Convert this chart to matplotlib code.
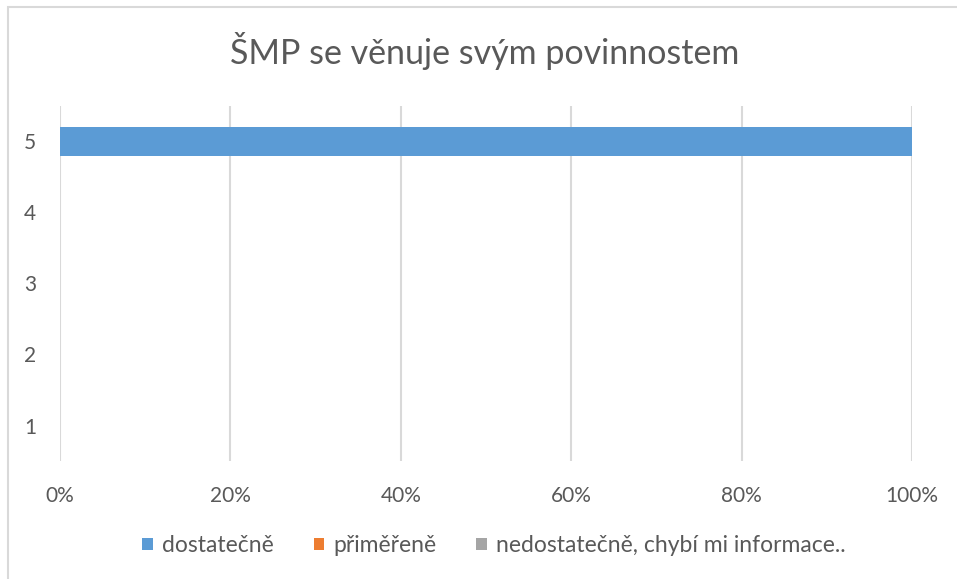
import matplotlib
matplotlib.use("Agg")
import matplotlib.pyplot as plt
from matplotlib.patches import Rectangle
from matplotlib.ticker import FuncFormatter

plt.rcParams['font.family'] = ['Lato', 'DejaVu Sans']

categories = ["1", "2", "3", "4", "5"]
series_names = ["dostatečně", "přiměřeně", "nedostatečně, chybí mi informace.."]
dostatecne = [0, 0, 0, 0, 100]
primerene = [0, 0, 0, 0, 0]
nedostatecne = [0, 0, 0, 0, 0]
colors = ["#5B9BD5", "#ED7D31", "#A5A5A5"]
title = "ŠMP se věnuje svým povinnostem"
xticks = [0, 20, 40, 60, 80, 100]

W, H = 957, 579
fig = plt.figure(figsize=(W / 100, H / 100), dpi=100)
fig.patch.set_facecolor("white")

# outer chart border (top and left edges visible)
fig.patches.append(Rectangle((8 / W, -0.1), 1.2, (H - 7) / H + 0.1,
                             transform=fig.transFigure, fill=False,
                             edgecolor="#D9D9D9", linewidth=1.5))

ax = fig.add_axes([60 / W, 1 - 461 / H, (912 - 60) / W, (461 - 106) / H])

ypos = list(range(len(categories)))
left = [0] * len(categories)
for vals, name, c in zip([dostatecne, primerene, nedostatecne], series_names, colors):
    ax.barh(ypos, vals, left=left, height=0.4, color=c, label=name, zorder=3)
    left = [l + v for l, v in zip(left, vals)]

ax.set_xlim(0, 100)
ax.set_ylim(-0.5, len(categories) - 0.5)
ax.set_xticks(xticks)
ax.xaxis.set_major_formatter(FuncFormatter(lambda v, p: f"{int(v)}%"))
ax.set_yticks(ypos)
ax.set_yticklabels(categories)
ax.grid(axis="x", color="#D9D9D9", linewidth=1.5, zorder=0)
for s in ax.spines.values():
    s.set_visible(False)
ax.tick_params(axis="both", length=0, colors="#595959", labelsize=15)
ax.tick_params(axis="x", pad=18)
ax.tick_params(axis="y", pad=17)

fig.text(485 / W, 1 - 51 / H, title, ha="center", va="center",
         fontsize=24.5, color="#595959")

leg = fig.legend(loc="center", bbox_to_anchor=(494 / W, 1 - 546 / H), ncol=3,
                 frameon=False, fontsize=16.5, handlelength=0.45, handleheight=0.45,
                 handletextpad=0.4, columnspacing=1.75)
for t in leg.get_texts():
    t.set_color("#595959")

fig.savefig("out.png", dpi=100)
